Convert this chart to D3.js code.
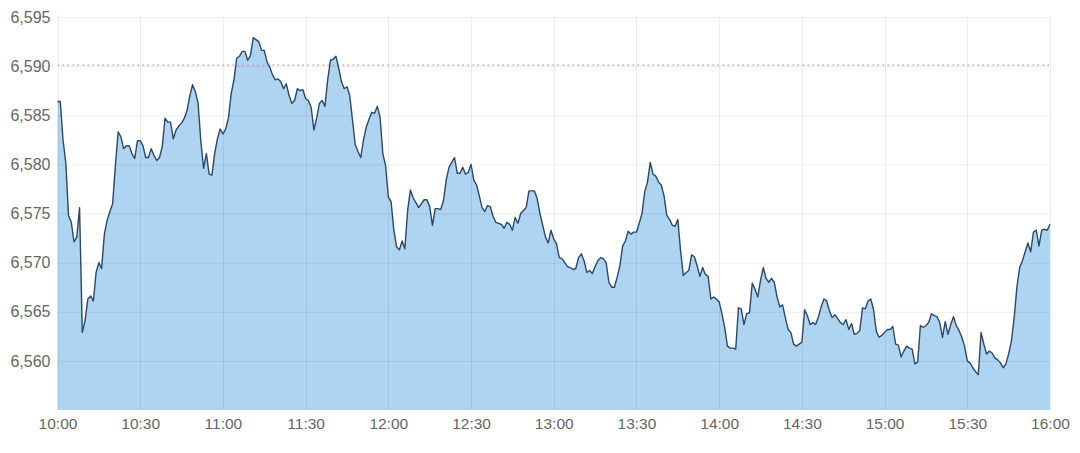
<!DOCTYPE html>
<html>
<head>
<meta charset="utf-8">
<script src="https://cdn.jsdelivr.net/npm/d3@7"></script>
<style>
  html, body { margin: 0; padding: 0; background: #fff; }
  svg { display: block; }
  .tick text { font-family: "Liberation Sans", Arial, sans-serif; fill: #666; }
</style>
</head>
<body>
<svg id="chart" width="1080" height="453"></svg>
<script>
// ---- data ----
const startTime = "10:00";
const endTime = "16:00";
// one price per minute from 10:00 to 16:00
const prices = [
  6586.4, 6586.4, 6582.5, 6580.2, 6574.8, 6574.1, 6572.1, 6572.6, 6575.6, 6562.9,
  6564.1, 6566.3, 6566.6, 6566.1, 6569.0, 6570.0, 6569.4, 6572.9, 6574.3, 6575.2,
  6576.0, 6579.9, 6583.3, 6582.8, 6581.6, 6581.9, 6581.9, 6581.1, 6580.6, 6582.4,
  6582.4, 6581.9, 6580.7, 6580.7, 6581.6, 6580.9, 6580.4, 6580.7, 6581.8, 6584.7,
  6584.3, 6584.3, 6582.6, 6583.5, 6583.9, 6584.2, 6584.7, 6585.5, 6587.0, 6588.1,
  6587.4, 6586.2, 6582.3, 6579.6, 6581.1, 6579.0, 6578.9, 6581.1, 6582.6, 6583.6,
  6583.1, 6583.6, 6584.7, 6587.2, 6588.6, 6590.8, 6591.0, 6591.5, 6591.5, 6590.6,
  6591.1, 6592.9, 6592.7, 6592.5, 6591.6, 6591.6, 6590.4, 6589.9, 6589.1, 6588.6,
  6588.7, 6588.4, 6587.7, 6588.2, 6587.0, 6586.2, 6586.5, 6587.7, 6587.5, 6587.6,
  6586.7, 6586.5, 6585.8, 6583.5, 6584.7, 6586.2, 6586.5, 6585.9, 6588.6, 6590.6,
  6590.7, 6591.0, 6589.8, 6588.4, 6587.7, 6587.9, 6587.0, 6584.5, 6582.0, 6581.3,
  6580.7, 6582.5, 6583.8, 6584.6, 6585.3, 6585.2, 6585.9, 6584.8, 6581.1, 6579.9,
  6576.7, 6576.2, 6573.3, 6571.6, 6571.3, 6572.2, 6571.4, 6575.3, 6577.4, 6576.6,
  6576.1, 6575.6, 6576.0, 6576.4, 6576.4, 6575.7, 6573.8, 6575.5, 6575.5, 6575.4,
  6576.3, 6578.4, 6579.7, 6580.2, 6580.7, 6579.1, 6579.1, 6579.7, 6579.0, 6579.2,
  6580.0, 6578.4, 6577.9, 6576.8, 6575.6, 6575.2, 6575.8, 6575.7, 6574.7, 6574.1,
  6574.0, 6573.9, 6573.5, 6574.1, 6573.9, 6573.3, 6574.6, 6574.0, 6575.0, 6575.3,
  6575.6, 6577.3, 6577.3, 6577.3, 6576.5, 6575.0, 6573.8, 6572.6, 6572.0, 6573.3,
  6572.4, 6571.9, 6570.5, 6570.4, 6570.0, 6569.6, 6569.5, 6569.3, 6569.4, 6570.5,
  6570.9, 6570.2, 6569.0, 6569.2, 6568.9, 6569.6, 6570.2, 6570.5, 6570.4, 6570.0,
  6568.0, 6567.5, 6567.5, 6568.5, 6569.7, 6571.7, 6572.2, 6573.2, 6572.9, 6573.1,
  6573.1, 6574.0, 6575.0, 6577.2, 6578.2, 6580.2, 6579.0, 6578.8, 6578.2, 6577.9,
  6576.8, 6574.8, 6574.4, 6573.8, 6573.7, 6574.4, 6571.2, 6568.7, 6569.0, 6569.2,
  6570.8, 6570.6, 6569.7, 6568.6, 6569.5, 6568.8, 6568.6, 6566.3, 6566.5, 6566.3,
  6566.0, 6564.8, 6563.4, 6561.5, 6561.3, 6561.3, 6561.2, 6565.4, 6565.3, 6563.7,
  6564.8, 6564.9, 6567.9, 6567.3, 6566.5, 6568.2, 6569.5, 6568.4, 6568.0, 6568.4,
  6568.0, 6566.5, 6565.5, 6565.7, 6564.4, 6563.2, 6562.9, 6561.7, 6561.5, 6561.7,
  6561.9, 6565.2, 6564.6, 6563.7, 6563.9, 6563.7, 6564.5, 6565.5, 6566.3, 6566.1,
  6565.1, 6564.4, 6564.7, 6564.3, 6563.9, 6563.7, 6564.2, 6563.2, 6563.8, 6562.7,
  6562.8, 6563.1, 6565.4, 6565.3, 6566.1, 6566.3, 6565.2, 6563.0, 6562.4, 6562.6,
  6562.9, 6563.2, 6563.2, 6563.5, 6561.7, 6561.6, 6560.4, 6561.0, 6561.5, 6561.3,
  6561.2, 6559.7, 6559.9, 6563.6, 6563.4, 6563.6, 6563.9, 6564.8, 6564.6, 6564.5,
  6563.9, 6562.4, 6564.0, 6562.7, 6563.7, 6564.5, 6563.6, 6563.1, 6562.4, 6561.5,
  6560.0, 6559.8, 6559.3, 6558.9, 6558.6, 6562.9, 6561.7, 6560.7, 6561.0, 6560.8,
  6560.3, 6560.1, 6559.8, 6559.3, 6559.7, 6560.7, 6562.0, 6564.4, 6567.5, 6569.5,
  6570.2, 6571.1, 6572.0, 6571.1, 6573.1, 6573.3, 6571.7, 6573.3, 6573.4, 6573.3,
  6573.9
];
const yTicks = [6560, 6565, 6570, 6575, 6580, 6585, 6590, 6595];
const xTickLabels = ["10:00","10:30","11:00","11:30","12:00","12:30","13:00","13:30","14:00","14:30","15:00","15:30","16:00"];
const yDomain = [6555, 6595];
const refLevel = 6590.1;

// ---- setup ----
const parse = d3.timeParse("%H:%M");
const t0 = parse(startTime);
const data = prices.map((v, i) => ({ t: d3.timeMinute.offset(t0, i), v }));

const W = 1080, H = 453;
const margin = { left: 57.5, right: 30, top: 17, bottom: 43 };
const svg = d3.select("#chart");

const x = d3.scaleTime()
  .domain([t0, parse(endTime)])
  .range([margin.left, W - margin.right]);
const y = d3.scaleLinear()
  .domain(yDomain)
  .range([H - margin.bottom, margin.top]);

const xTicks = xTickLabels.map(parse);
const fmtY = d3.format(",");

// area
const area = d3.area()
  .x(d => x(d.t))
  .y0(y(yDomain[0]))
  .y1(d => y(d.v));
svg.append("path")
  .datum(data)
  .attr("d", area)
  .attr("fill", "#afd4f1");

// gridlines (on top of area, translucent)
const grid = svg.append("g");
grid.selectAll("line.h")
  .data(yTicks)
  .join("line")
  .attr("x1", x.range()[0]).attr("x2", x.range()[1])
  .attr("y1", d => y(d) + 0.5).attr("y2", d => y(d) + 0.5)
  .attr("stroke", "rgba(0,0,0,0.07)").attr("stroke-width", 1);
grid.selectAll("line.v")
  .data(xTicks)
  .join("line")
  .attr("x1", d => Math.round(x(d)) + 0.5).attr("x2", d => Math.round(x(d)) + 0.5)
  .attr("y1", y.range()[1]).attr("y2", y.range()[0])
  .attr("stroke", "rgba(0,0,0,0.07)").attr("stroke-width", 1);

// reference dotted line
svg.append("line")
  .attr("x1", x.range()[0]).attr("x2", x.range()[1])
  .attr("y1", y(refLevel)).attr("y2", y(refLevel))
  .attr("stroke", "#e58a8a")
  .attr("stroke-width", 1.3)
  .attr("stroke-dasharray", "1.5,3.5");

// price line
const line = d3.line()
  .x(d => x(d.t))
  .y(d => y(d.v));
svg.append("path")
  .datum(data)
  .attr("d", line)
  .attr("fill", "none")
  .attr("stroke", "#2b4866")
  .attr("stroke-width", 1.4)
  .attr("stroke-linejoin", "round");

// axes
const yAxis = d3.axisLeft(y)
  .tickValues(yTicks)
  .tickFormat(fmtY)
  .tickSize(0)
  .tickPadding(7);
const gy = svg.append("g")
  .attr("transform", `translate(${margin.left},0)`)
  .call(yAxis);
gy.select(".domain").remove();
gy.selectAll("text").attr("font-size", 16);

const xAxis = d3.axisBottom(x)
  .tickValues(xTicks)
  .tickFormat(d3.timeFormat("%H:%M"))
  .tickSize(0)
  .tickPadding(8);
const gx = svg.append("g")
  .attr("transform", `translate(0,${H - margin.bottom})`)
  .call(xAxis);
gx.select(".domain").remove();
gx.selectAll("text").attr("font-size", 15.5);
</script>
</body>
</html>
